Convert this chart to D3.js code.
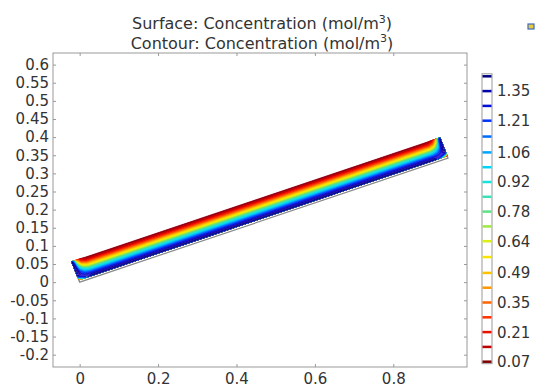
<!DOCTYPE html>
<html>
<head>
<meta charset="utf-8">
<script src="https://cdn.jsdelivr.net/npm/d3@7"></script>
<style>
  body { margin: 0; background: #fff; }
  svg { font-family: "DejaVu Sans", sans-serif; }
</style>
</head>
<body>
<svg id="chart" width="539" height="388"></svg>
<script>
// Axis ticks and visible range (m)
const xTicks = [0, 0.2, 0.4, 0.6, 0.8];
const yTicks = [-0.2, -0.15, -0.1, -0.05, 0, 0.05, 0.1, 0.15, 0.2, 0.25, 0.3, 0.35, 0.4, 0.45, 0.5, 0.55, 0.6];
const xDomain = [-0.068, 0.988];
const yDomain = [-0.234, 0.632];

// Contour levels (mol/m^3) and the ones labelled in the legend
const contourLevels = [0.07, 0.14, 0.21, 0.28, 0.35, 0.42, 0.49, 0.565, 0.64, 0.71,
  0.78, 0.85, 0.92, 0.99, 1.06, 1.135, 1.21, 1.28, 1.35, 1.42];
const legendLabels = [0.07, 0.21, 0.35, 0.49, 0.64, 0.78, 0.92, 1.06, 1.21, 1.35];

// Channel geometry (m, degrees)
const channelLength = 1;
const channelWidth = 0.06;
const channelAngle = 20;
const wallThickness = 0.0065;

// Concentration samples: along the channel (fraction of length) x across (fraction of fluid width, bottom to top)
const alongPos = [0, 0.005, 0.012, 0.022, 0.035, 0.5, 0.965, 0.978, 0.988, 0.995, 1];
const acrossPos = [0, 0.125, 0.25, 0.375, 0.5, 0.625, 0.75, 0.875, 1];
const concentration = [
  [0.04, 0.50, 1.00, 1.30, 1.46, 1.46, 1.46, 1.30, 1.00, 0.50, 0.04],
  [1.10, 1.25, 1.30, 1.32, 1.33, 1.33, 1.33, 1.32, 1.30, 1.25, 1.10],
  [1.40, 1.40, 1.30, 1.20, 1.15, 1.15, 1.15, 1.20, 1.30, 1.40, 1.40],
  [1.46, 1.42, 1.22, 1.05, 0.95, 0.95, 0.95, 1.05, 1.22, 1.42, 1.46],
  [1.46, 1.40, 1.10, 0.86, 0.74, 0.74, 0.74, 0.86, 1.10, 1.40, 1.46],
  [1.46, 1.36, 0.95, 0.66, 0.53, 0.53, 0.53, 0.66, 0.95, 1.36, 1.46],
  [1.46, 1.30, 0.80, 0.46, 0.33, 0.33, 0.33, 0.46, 0.80, 1.30, 1.46],
  [1.46, 1.22, 0.62, 0.28, 0.16, 0.16, 0.16, 0.28, 0.62, 1.22, 1.46],
  [1.46, 1.10, 0.45, 0.16, 0.04, 0.04, 0.04, 0.16, 0.45, 1.10, 1.46]
];

const width = 539;
const height = 388;
const margin = { top: 53, right: 72, bottom: 21, left: 53 };

const svg = d3.select("#chart");

const x = d3.scaleLinear().domain(xDomain).range([margin.left, width - margin.right]);
const y = d3.scaleLinear().domain(yDomain).range([height - margin.bottom, margin.top]);

// Colour table of the contour legend: low = dark red, high = navy
const stops = ["#800000", "#d00000", "#ff1a00", "#ff5a00", "#ff9a00", "#ffd000", "#f4f400",
  "#a8e83c", "#58e08c", "#30e0c8", "#00e4f4", "#00a8ff", "#0060ff", "#0018f0", "#0000b8", "#000080"];
const tableColor = d3.scaleLinear()
  .domain(stops.map((d, i) => i / (stops.length - 1)))
  .range(stops)
  .interpolate(d3.interpolateRgb);
// Surface table runs on into violet at the top end
const surfStops = ["#a0102c", "#d80010", "#ff1a00", "#ff5a00", "#ff9a00", "#ffd000", "#f4f400",
  "#a8e83c", "#58e08c", "#30e0c8", "#00e4f4", "#00a8ff", "#2060ff", "#3030e0", "#4a20b8", "#5a2098"];
const surfColor = d3.scaleLinear()
  .domain(surfStops.map((d, i) => i / (surfStops.length - 1)))
  .range(surfStops)
  .interpolate(d3.interpolateRgb);

// Title
const title = svg.append("g").attr("fill", "#333").attr("font-size", 16).attr("text-anchor", "middle");
[["Surface: Concentration (mol/m", 29], ["Contour: Concentration (mol/m", 48.5]].forEach(([t, yy]) => {
  const txt = title.append("text").attr("x", 262).attr("y", yy);
  txt.append("tspan").text(t);
  txt.append("tspan").attr("font-size", 11).attr("dy", -6.5).text("3");
  txt.append("tspan").attr("dy", 6.5).text(")");
});

// Small toolbar icon in the top right corner
svg.append("rect").attr("x", 528).attr("y", 24).attr("width", 6).attr("height", 5)
  .attr("fill", "#e8c840").attr("stroke", "#3b6cc0").attr("stroke-width", 1.2);

// Field on the channel: contours are computed on the sample grid, then mapped to the plane
const nCols = alongPos.length;
const nRows = acrossPos.length;
const values = concentration.flat();
const gridU = d3.scaleLinear().domain(d3.range(nCols).map((i) => i + 0.5)).range(alongPos).clamp(true);
const gridV = d3.scaleLinear().domain(d3.range(nRows).map((j) => j + 0.5)).range(acrossPos).clamp(true);
const rad = (channelAngle * Math.PI) / 180;

function toPlane(s, t) {
  return [s * Math.cos(rad) - t * Math.sin(rad), s * Math.sin(rad) + t * Math.cos(rad)];
}

const projection = d3.geoTransform({
  point(gi, gj) {
    const s = gridU(gi) * channelLength;
    const t = wallThickness + gridV(gj) * (channelWidth - wallThickness);
    const [px, py] = toPlane(s, t);
    this.stream.point(x(px), y(py));
  }
});
const path = d3.geoPath(projection);
const planeLine = d3.line().x((d) => x(d[0])).y((d) => y(d[1]));

const vMin = d3.min(values);
const vMax = d3.max(values);
const field = svg.append("g");

const fluid = [[0, wallThickness], [channelLength, wallThickness], [channelLength, channelWidth], [0, channelWidth]]
  .map(([s, t]) => toPlane(s, t));
svg.append("clipPath").attr("id", "fluid-clip")
  .append("path").attr("d", planeLine.curve(d3.curveLinearClosed)(fluid));

// Surface
const surfaceSteps = d3.ticks(vMin, vMax, 60);
const surfaceBands = d3.contours().size([nCols, nRows]).thresholds([vMin, ...surfaceSteps])(values);
field.append("g")
  .selectAll("path")
  .data(surfaceBands)
  .join("path")
  .attr("d", path)
  .attr("fill", (d) => surfColor((d.value - vMin) / (vMax - vMin)))
  .attr("stroke", (d) => surfColor((d.value - vMin) / (vMax - vMin)))
  .attr("stroke-width", 0.3);

// Contour lines coloured by level
const levelColor = (i) => tableColor(i / (contourLevels.length - 1));
const isolines = d3.contours().size([nCols, nRows]).thresholds(contourLevels)(values);
field.append("g")
  .attr("clip-path", "url(#fluid-clip)")
  .selectAll("path")
  .data(isolines)
  .join("path")
  .attr("d", path)
  .attr("fill", "none")
  .attr("stroke", (d, i) => levelColor(i))
  .attr("stroke-width", 0.8);

// Wall below the fluid
const wall = [[0, wallThickness], [0, 0], [channelLength, 0], [channelLength, wallThickness]]
  .map(([s, t]) => toPlane(s, t));
svg.append("path")
  .attr("d", d3.line().x((d) => x(d[0])).y((d) => y(d[1]))(wall))
  .attr("fill", "none")
  .attr("stroke", "#8a8a8a")
  .attr("stroke-width", 1.2);

// Frame with inward ticks on all sides
const plotW = width - margin.left - margin.right;
const plotH = height - margin.top - margin.bottom;
const fmt = (d) => String(d);
const styleAxis = (g) => {
  g.attr("font-family", "DejaVu Sans").attr("font-size", 15);
  g.select(".domain").remove();
  g.selectAll(".tick line").attr("stroke", "#999");
  g.selectAll(".tick text").attr("fill", "#333");
};

svg.append("g")
  .attr("transform", `translate(0,${height - margin.bottom})`)
  .call(d3.axisBottom(x).tickValues(xTicks).tickFormat(fmt).tickSizeInner(-3).tickSizeOuter(0).tickPadding(6))
  .call(styleAxis);
svg.append("g")
  .attr("transform", `translate(${margin.left},0)`)
  .call(d3.axisLeft(y).tickValues(yTicks).tickFormat(fmt).tickSizeInner(-3).tickSizeOuter(0).tickPadding(4))
  .call(styleAxis);
svg.append("g")
  .attr("transform", `translate(0,${margin.top})`)
  .call(d3.axisTop(x).tickValues(xTicks).tickFormat("").tickSizeInner(-3).tickSizeOuter(0))
  .call(styleAxis);
svg.append("g")
  .attr("transform", `translate(${width - margin.right},0)`)
  .call(d3.axisRight(y).tickValues(yTicks).tickFormat("").tickSizeInner(-3).tickSizeOuter(0))
  .call(styleAxis);

svg.append("rect")
  .attr("x", margin.left).attr("y", margin.top)
  .attr("width", plotW).attr("height", plotH)
  .attr("fill", "none").attr("stroke", "#999");

// Contour legend
const legendY = d3.scaleLinear().domain([contourLevels[0], contourLevels[contourLevels.length - 1]]).range([361.7, 76.3]);
const legendX = 482;
const legendW = 10;
const legend = svg.append("g");
legend.append("rect")
  .attr("x", legendX).attr("y", legendY(contourLevels[contourLevels.length - 1]) - 2.5)
  .attr("width", legendW)
  .attr("height", legendY(contourLevels[0]) - legendY(contourLevels[contourLevels.length - 1]) + 4.5)
  .attr("fill", "#fff").attr("stroke", "#999");
legend.selectAll("rect.level")
  .data(contourLevels)
  .join("rect")
  .attr("class", "level")
  .attr("x", legendX + 0.5).attr("width", legendW - 1)
  .attr("y", (d) => legendY(d) - 1.25).attr("height", 2.5)
  .attr("fill", (d, i) => levelColor(i));
legend.selectAll("text")
  .data(legendLabels)
  .join("text")
  .attr("x", legendX + legendW + 5)
  .attr("y", (d) => legendY(d))
  .attr("dy", "0.36em")
  .attr("fill", "#333")
  .attr("font-size", 15)
  .text((d) => d3.format(".2f")(d));
</script>
</body>
</html>
